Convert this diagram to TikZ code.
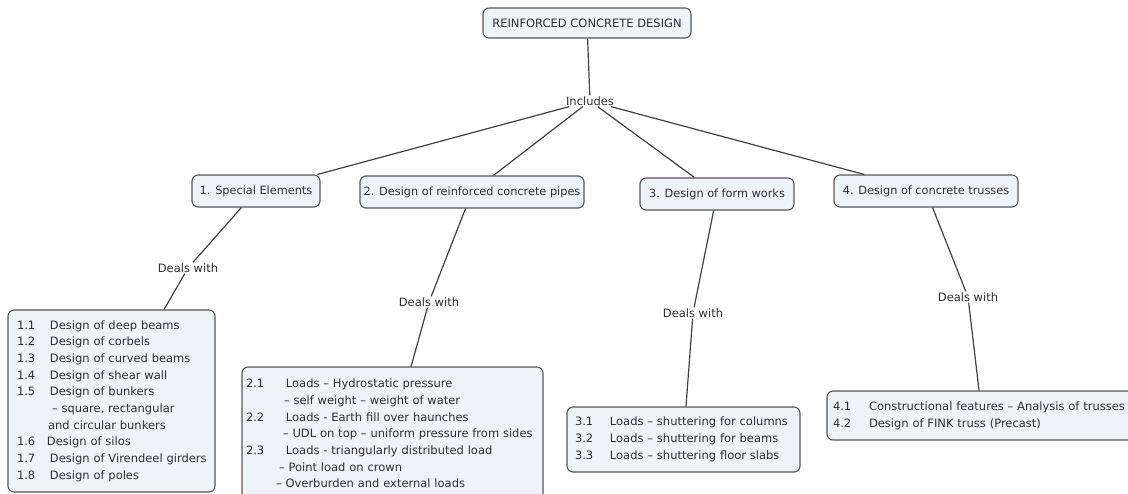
\documentclass[tikz,border=0pt]{standalone}
\usepackage{fontspec}
\setmainfont{DejaVu Sans}
\definecolor{boxfill}{HTML}{EEF4F6}
\definecolor{boxline}{HTML}{555555}
\definecolor{txt}{HTML}{2E2E2E}
\definecolor{conn}{HTML}{404040}
\tikzset{
  mbox/.style={draw=boxline, fill=boxfill, rounded corners=6pt, line width=1.1pt,
    text=txt, font=\fontsize{11.3}{16.7}\selectfont, inner sep=0pt, align=center},
  lbox/.style={mbox, align=left, font=\fontsize{11.5}{16.7}\selectfont,
    execute at begin node={\hyphenpenalty=10000\exhyphenpenalty=10000\hbadness=10000\hfuzz=50pt}},
  lbl/.style={text=txt, font=\fontsize{11.5}{13}\selectfont, inner sep=1pt},
  conline/.style={draw=conn, line width=1.2pt}
}
\newcommand{\nm}[2]{\makebox[#1pt][l]{#2}}
\begin{document}
\begin{tikzpicture}[x=1pt,y=-1pt]
\useasboundingbox (0,0) rectangle (1128,493);
\clip (0,0) rectangle (1128,493);
% top
\node[mbox, minimum width=208, minimum height=30, font=\fontsize{11.5}{14}\selectfont] (root) at (587,23) {REINFORCED CONCRETE DESIGN};
\node[lbl] (inc) at (590,101) {Includes};
% level 1
\node[mbox, minimum width=128, minimum height=32] (b1) at (256,191) {1. Special Elements};
\node[mbox, minimum width=224, minimum height=32] (b2) at (472,192) {2. Design of reinforced concrete pipes};
\node[mbox, minimum width=154, minimum height=32] (b3) at (717,194) {3. Design of form works};
\node[mbox, minimum width=184, minimum height=32] (b4) at (926,191) {4. Design of concrete trusses};
% labels
\node[lbl] (d1) at (188,268) {Deals with};
\node[lbl] (d2) at (429,302) {Deals with};
\node[lbl] (d3) at (693,313) {Deals with};
\node[lbl] (d4) at (968,297) {Deals with};
% level 2
\node[lbox, minimum width=207, minimum height=182, inner xsep=9, text width=189] (c1) at (111.5,401) {%
\nm{33}{1.1}Design of deep beams\\
\nm{33}{1.2}Design of corbels\\
\nm{33}{1.3}Design of curved beams\\
\nm{33}{1.4}Design of shear wall\\
\nm{33}{1.5}Design of bunkers\\
\hspace*{35pt}– square, rectangular\\
\hspace*{31pt}and circular bunkers\\
\nm{30}{1.6}Design of silos\\
\mbox{\nm{33}{1.7}Design of Virendeel girders}\\
\nm{33}{1.8}Design of poles};
\node[lbox, minimum width=301, minimum height=133, inner xsep=4, text width=293] (c2) at (392.5,433.5) {%
\nm{40}{2.1}Loads – Hydrostatic pressure\\
\hspace*{38pt}– self weight – weight of water\\
\nm{40}{2.2}Loads - Earth fill over haunches\\
\mbox{\hspace*{37pt}– UDL on top – uniform pressure from sides}\\
\nm{40}{2.3}Loads - triangularly distributed load\\
\hspace*{33pt}– Point load on crown\\
\hspace*{30pt}– Overburden and external loads};
\node[lbox, minimum width=233, minimum height=65, inner xsep=8, text width=217] (c3) at (683.5,439.5) {%
\nm{35}{3.1}Loads – shuttering for columns\\
\nm{35}{3.2}Loads – shuttering for beams\\
\nm{35}{3.3}Loads – shuttering floor slabs};
\node[lbox, minimum width=310, minimum height=49, inner xsep=6, text width=298] (c4) at (982,415.5) {%
\mbox{\nm{36}{4.1}Constructional features – Analysis of trusses}\\
\nm{36}{4.2}Design of FINK truss (Precast)};
% connectors
\draw[conline] (root) -- (inc);
\draw[conline] (inc) -- (b1);
\draw[conline] (inc) -- (b2);
\draw[conline] (inc) -- (b3);
\draw[conline] (inc) -- (b4);
\draw[conline] (b1) -- (d1);
\draw[conline] (d1) -- (c1);
\draw[conline] (b2) -- (d2);
\draw[conline] (d2) -- (c2);
\draw[conline] (b3) -- (d3);
\draw[conline] (d3) -- (c3);
\draw[conline] (b4) -- (d4);
\draw[conline] (d4) -- (c4);
\end{tikzpicture}
\end{document}
